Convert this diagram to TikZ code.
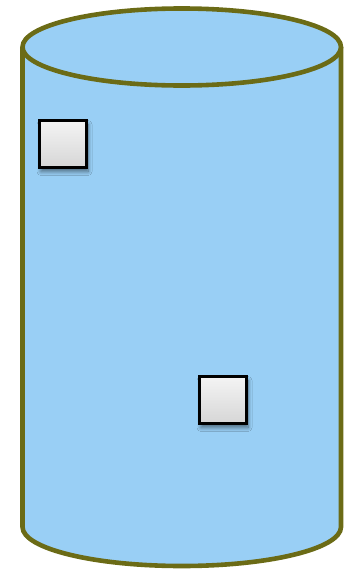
\documentclass[tikz,border=0pt]{standalone}
\usetikzlibrary{shadows.blur}
\definecolor{cylfill}{HTML}{99CFF5}
\definecolor{cylline}{HTML}{6B6B16}
\definecolor{boxtop}{HTML}{F4F4F4}
\definecolor{boxbot}{HTML}{D6D6D6}
\begin{document}
\begin{tikzpicture}[x=1pt,y=-1pt,
  cylstroke/.style={draw=cylline,line width=4.6pt},
  smallbox/.style={draw=black,line width=2.2pt,minimum width=47pt,minimum height=47pt,inner sep=0pt,
    top color=boxtop,bottom color=boxbot,
    blur shadow={shadow xshift=1.5pt,shadow yshift=-4pt,shadow blur radius=4pt,shadow blur steps=8,shadow opacity=50}}]
\useasboundingbox (0,0) rectangle (343,570);
% body
\fill[cylfill] (22.5,47) -- (22.5,527) arc[start angle=180,end angle=360,x radius=159.25,y radius=-39] -- (341,47) -- cycle;
\draw[cylstroke] (22.5,47) -- (22.5,527) arc[start angle=180,end angle=360,x radius=159.25,y radius=-39] -- (341,47);
% top ellipse
\draw[cylstroke,fill=cylfill] (181.75,47) ellipse[x radius=159.25,y radius=38.5];
% boxes
\node[smallbox] (boxA) at (63,144) {};
\node[smallbox] (boxB) at (223,400) {};
\end{tikzpicture}
\end{document}
